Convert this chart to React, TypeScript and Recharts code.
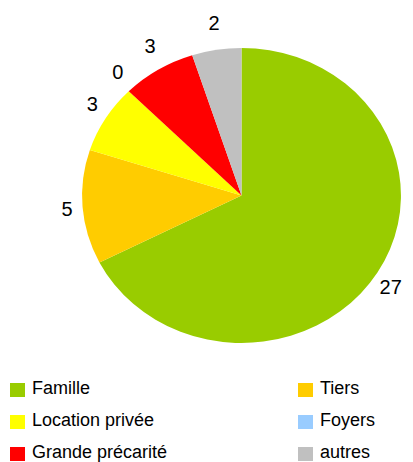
import { PieChart, Pie, Cell, Legend } from "recharts";

const categories = ["Famille", "Tiers", "Location privée", "Foyers", "Grande précarité", "autres"];
const counts = [27, 5, 3, 0, 3, 2];
const colors = ["#99cc00", "#ffcc00", "#ffff00", "#99ccff", "#ff0000", "#c0c0c0"];
// legend order (two columns, read row by row)
const legendOrder = [0, 1, 2, 3, 4, 5];

const data = categories.map((name, i) => ({ name, value: counts[i] }));

const RADIAN = Math.PI / 180;
const X_STRETCH = 1.081;
const FONT = "'Liberation Sans', Arial, sans-serif";

function EllipseSector(props: any) {
  const { cx, cy, outerRadius, startAngle, endAngle, fill } = props;
  const rx = outerRadius * X_STRETCH;
  const ry = outerRadius;
  const pt = (a: number) => [cx + rx * Math.cos(-a * RADIAN), cy + ry * Math.sin(-a * RADIAN)];
  const [x1, y1] = pt(startAngle);
  const [x2, y2] = pt(endAngle);
  const span = Math.abs(startAngle - endAngle);
  if (span <= 0) return null;
  const large = span > 180 ? 1 : 0;
  const sweep = endAngle < startAngle ? 1 : 0;
  const d = `M${cx},${cy} L${x1},${y1} A${rx},${ry} 0 ${large} ${sweep} ${x2},${y2} Z`;
  return <path d={d} fill={fill} stroke="none" />;
}

function renderLabel(props: any) {
  const { cx, cy, midAngle, value } = props;
  const r = 175;
  const x = cx + r * Math.cos(-midAngle * RADIAN);
  const y = cy + r * Math.sin(-midAngle * RADIAN);
  return (
    <text x={x} y={y} textAnchor="middle" dominantBaseline="central" fill="#000" fontSize={20} fontFamily={FONT}>
      {value}
    </text>
  );
}

function LegendContent() {
  return (
    <div style={{ position: "relative", width: 413, height: 96, fontFamily: FONT, fontSize: 18, color: "#000" }}>
      {legendOrder.map((idx, k) => {
        const col = k % 2;
        const row = Math.floor(k / 2);
        return (
          <div
            key={idx}
            style={{
              position: "absolute",
              left: col === 0 ? 10 : 298,
              top: row * 32,
              height: 32,
              display: "flex",
              alignItems: "center",
              whiteSpace: "nowrap",
            }}
          >
            <span style={{ display: "inline-block", width: 15, height: 14, background: colors[idx], marginRight: 7, marginTop: 3 }} />
            <span>{categories[idx]}</span>
          </div>
        );
      })}
    </div>
  );
}

export default function App() {
  return (
    <div style={{ position: "absolute", left: 0, top: 0, background: "#fff" }}>
      <PieChart width={413} height={462} margin={{ top: 0, right: 0, bottom: 0, left: 0 }}>
        <Pie
          data={data}
          dataKey="value"
          nameKey="name"
          cx={241.5}
          cy={195.5}
          outerRadius={147.5}
          startAngle={90}
          endAngle={-270}
          stroke="none"
          shape={EllipseSector}
          label={renderLabel}
          labelLine={false}
          isAnimationActive={false}
        >
          {data.map((d, i) => (
            <Cell key={d.name} fill={colors[i]} />
          ))}
        </Pie>
        <Legend
          content={<LegendContent />}
          wrapperStyle={{ position: "absolute", left: 0, top: 372, width: 413 }}
        />
      </PieChart>
    </div>
  );
}
